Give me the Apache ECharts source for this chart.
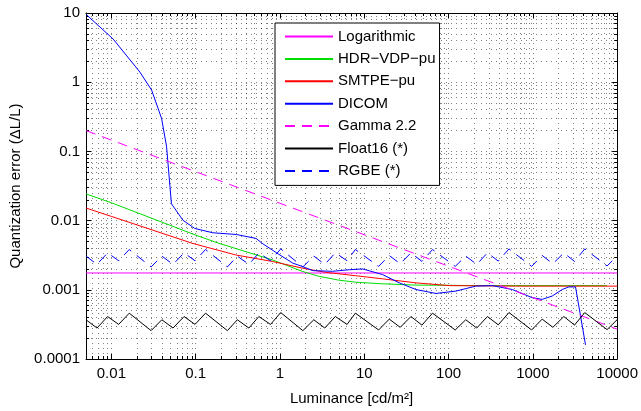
<!DOCTYPE html>
<html>
<head>
<meta charset="utf-8">
<script src="https://cdn.jsdelivr.net/npm/echarts@6/dist/echarts.min.js"></script>
<style>
  html, body { margin: 0; padding: 0; background: #fff; }
  #chart { width: 641px; height: 411px; }
</style>
</head>
<body>
<div id="chart"></div>
<script>
// values (luminance in cd/m2, error as dL/L)
const lumRange = [0.005, 10000];
const errRange = [0.0001, 10];

const seriesNames = ['Logarithmic', 'HDR\u2212VDP\u2212pu', 'SMTPE\u2212pu', 'DICOM', 'Gamma 2.2', 'Float16 (*)', 'RGBE (*)'];

const logLum = [0.005, 10000];
const logErr = [0.00175, 0.00175];

const hdrLum = [0.005, 0.01, 0.1, 0.189, 0.81, 1.83, 2.88, 4.98, 7.83, 16.5, 41, 252, 7590];
const hdrErr = [0.0243, 0.0181, 0.00617, 0.00469, 0.00271, 0.00185, 0.00157, 0.00138, 0.00129, 0.00122, 0.00117, 0.00115, 0.00115];

const smtpeLum = [0.005, 0.01, 0.0917, 0.298, 0.81, 1.83, 3.46, 7.83, 16.5, 41, 102, 625, 10000];
const smtpeErr = [0.0152, 0.0115, 0.00469, 0.00319, 0.00257, 0.00206, 0.00179, 0.0016, 0.00144, 0.00126, 0.00115, 0.00113, 0.00113];

const dicomLum = [0.005, 0.0105, 0.0218, 0.030, 0.0394, 0.0451, 0.0516, 0.0708, 0.0975, 0.16, 0.303, 0.52, 0.616, 0.924, 1.42, 1.83, 2.45, 4.2, 6.65, 9.58, 16.5, 26, 41, 70.7, 122, 210, 330, 570, 984, 1291, 1694, 2228, 2674, 3210, 4214];
const dicomErr = [9.58, 4.2, 1.40, 0.77, 0.30, 0.119, 0.0175, 0.0101, 0.0077, 0.00667, 0.0063, 0.00553, 0.00469, 0.00338, 0.00243, 0.00218, 0.00189, 0.00185, 0.00195, 0.002, 0.00166, 0.00126, 0.00101, 0.000886, 0.000957, 0.00113, 0.00115, 0.00101, 0.000769, 0.000727, 0.000812, 0.00101, 0.0011, 0.0011, 0.00016];

const gammaLum = [0.005, 1, 10000];
const gammaErr = [0.2, 0.0178, 0.00027];

// float16 and rgbe were sampled at the same luminance steps
const sampleLum = [0.005, 0.00675, 0.00903, 0.0122, 0.0163, 0.0296, 0.0397, 0.0539, 0.0728, 0.0982, 0.131, 0.238, 0.312, 0.428, 0.562, 0.773, 1.02, 1.87, 2.52, 3.40, 4.54, 6.25, 7.84, 14.8, 19.8, 26.7, 35.8, 48.3, 64.5, 120, 160, 216, 289, 389, 521, 967, 1291, 1727, 2333, 3120, 4130, 7590, 10000];
const float16Err = [0.000369, 0.00028, 0.000411, 0.000316, 0.000459, 0.000257, 0.000369, 0.00028, 0.000411, 0.000316, 0.000459, 0.000257, 0.000369, 0.00028, 0.000411, 0.000316, 0.000469, 0.000257, 0.000369, 0.00028, 0.000411, 0.000316, 0.000459, 0.000263, 0.000377, 0.000287, 0.000411, 0.000309, 0.000459, 0.000263, 0.000369, 0.00028, 0.000411, 0.000312, 0.000469, 0.000263, 0.000377, 0.000287, 0.000411, 0.000309, 0.000469, 0.000266, 0.00037];
const rgbeErr = [0.00307, 0.00233, 0.00342, 0.00263, 0.00382, 0.00214, 0.00307, 0.00233, 0.00342, 0.00263, 0.00382, 0.00214, 0.00307, 0.00233, 0.00342, 0.00263, 0.0039, 0.00214, 0.00307, 0.00233, 0.00342, 0.00263, 0.00382, 0.00218, 0.00313, 0.00238, 0.00342, 0.00257, 0.00382, 0.00218, 0.00307, 0.00233, 0.00342, 0.0026, 0.0039, 0.00218, 0.00313, 0.00238, 0.00342, 0.00257, 0.0039, 0.00221, 0.00308];

const FONT = 'Liberation Sans';

const pairs = (xs, ys) => xs.map((x, i) => [x, ys[i]]);

const tickText = v => {
  const n = +Number(v).toPrecision(6);
  // powers of ten only, the 0.005 edge is left blank
  const e = Math.log10(n);
  if (Math.abs(e - Math.round(e)) > 1e-6) return '';
  return String(n);
};

const dotted = { type: [1, 4], color: 'rgba(0,0,0,0.5)', width: 1 };

const makeAxis = (range, pos, isMain) => ({
  type: 'log',
  logBase: 10,
  position: pos,
  min: range[0],
  max: range[1],
  axisLine: { show: true, onZero: false, lineStyle: { color: '#000', width: 1 } },
  axisTick: { show: true, inside: true, length: 5, lineStyle: { color: '#000' } },
  minorTick: { show: true, inside: true, splitNumber: 9, length: 3, lineStyle: { color: '#000' } },
  axisLabel: { show: isMain, formatter: tickText, color: '#000', fontFamily: FONT, fontSize: 15 },
  splitLine: { show: isMain, lineStyle: dotted },
  minorSplitLine: { show: isMain, lineStyle: dotted }
});

const chart = echarts.init(document.getElementById('chart'));

const xMain = makeAxis(lumRange, 'bottom', true);
xMain.axisLabel.margin = 7;
xMain.name = 'Luminance [cd/m\u00b2]';
xMain.nameLocation = 'middle';
xMain.nameGap = 32;
xMain.nameTextStyle = { color: '#000', fontFamily: FONT, fontSize: 15 };

const yMain = makeAxis(errRange, 'left', true);
yMain.axisLabel.margin = 6;
yMain.name = 'Quantization error (\u0394L/L)';
yMain.nameLocation = 'middle';
yMain.nameGap = 59;
yMain.nameTextStyle = { color: '#000', fontFamily: FONT, fontSize: 15 };

const line = (name, xs, ys, color, dashed) => ({
  name: name,
  type: 'line',
  xAxisIndex: 0,
  yAxisIndex: 0,
  data: pairs(xs, ys),
  symbol: 'none',
  showSymbol: false,
  smooth: false,
  clip: true,
  lineStyle: { color: color, width: 1, type: dashed ? [10, 7] : 'solid' },
  itemStyle: { color: color },
  emphasis: { disabled: true }
});

const option = {
  animation: false,
  backgroundColor: '#fff',
  grid: { left: 86, right: 22, top: 13, bottom: 49, containLabel: false },
  xAxis: [xMain, makeAxis(lumRange, 'top', false)],
  yAxis: [yMain, makeAxis(errRange, 'right', false)],
  legend: {
    orient: 'vertical',
    left: 275,
    top: 23,
    padding: [6, 4, 7, 9],
    itemGap: 7.4,
    itemWidth: 48,
    itemHeight: 14,
    selectedMode: false,
    backgroundColor: '#fff',
    borderColor: '#000',
    borderWidth: 1,
    itemStyle: { opacity: 0 },
    textStyle: { color: '#000', fontFamily: FONT, fontSize: 15 },
    data: seriesNames
  },
  series: [
    line(seriesNames[0], logLum, logErr, '#ff00ff', false),
    line(seriesNames[1], hdrLum, hdrErr, '#00dd00', false),
    line(seriesNames[2], smtpeLum, smtpeErr, '#ff0000', false),
    line(seriesNames[3], dicomLum, dicomErr, '#0000ff', false),
    line(seriesNames[4], gammaLum, gammaErr, '#ff00ff', true),
    line(seriesNames[5], sampleLum, float16Err, '#000000', false),
    line(seriesNames[6], sampleLum, rgbeErr, '#0000ff', true)
  ]
};

chart.setOption(option);
</script>
</body>
</html>
